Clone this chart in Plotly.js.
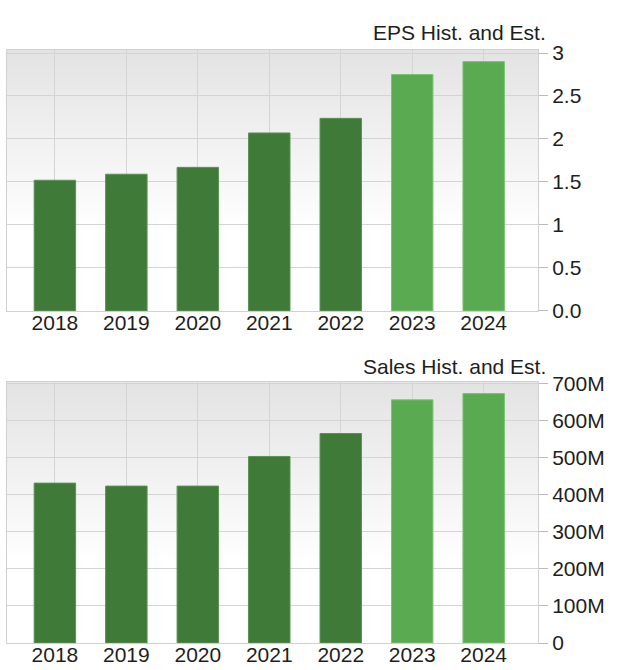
<!DOCTYPE html>
<html><head><meta charset="utf-8">
<script src="https://cdn.plot.ly/plotly-3.0.1.min.js"></script>
<style>html,body{margin:0;padding:0;background:#fff}#chart{width:620px;height:670px}</style>
</head><body><div id="chart"></div>
<script>
const years = ['2018','2019','2020','2021','2022','2023','2024'];
const isEstimate = [false,false,false,false,false,true,true];
const epsValues = [1.52, 1.59, 1.67, 2.07, 2.24, 2.75, 2.90];
const salesValues = [432e6, 424e6, 424e6, 504e6, 566e6, 657e6, 674e6];
const epsTickVals = [0, 0.5, 1, 1.5, 2, 2.5, 3];
const epsTickText = ['0.0','0.5','1','1.5','2','2.5','3'];
const salesTickVals = [0, 100e6, 200e6, 300e6, 400e6, 500e6, 600e6, 700e6];
const salesTickText = ['0','100M','200M','300M','400M','500M','600M','700M'];
const titles = ['EPS Hist. and Est.', 'Sales Hist. and Est.'];

const histColor = '#3f7a39', estColor = '#5aaa51';
const colors = isEstimate.map(e => e ? estColor : histColor);
const lineColors = isEstimate.map(e => e ? '#7cc274' : '#5c9156');

const font = {family:'Liberation Sans, Arial, sans-serif', size:21, color:'#1e1e1e'};

const grad = "<svg xmlns='http://www.w3.org/2000/svg' width='100' height='100' preserveAspectRatio='none'><defs><linearGradient id='g' x1='0' y1='0' x2='0' y2='1'><stop offset='0' stop-color='#e3e3e3'/><stop offset='0.7' stop-color='#ffffff'/><stop offset='1' stop-color='#ffffff'/></linearGradient></defs><rect width='100' height='100' fill='url(#g)'/></svg>";
const gradSrc = 'data:image/svg+xml;charset=utf-8,' + encodeURIComponent(grad);

const traces = [
  {type:'bar', x:years, y:epsValues, xaxis:'x', yaxis:'y', width:0.58,
   marker:{color:colors, line:{color:lineColors, width:1}}, hoverinfo:'none'},
  {type:'bar', x:years, y:salesValues, xaxis:'x2', yaxis:'y2', width:0.58,
   marker:{color:colors, line:{color:lineColors, width:1}}, hoverinfo:'none'}
];

const topDom = [0.56, 1], botDom = [0, 0.44];
function xax(anchor){
  return {anchor:anchor, domain:[0,1], type:'category', range:[-0.67, 6.76],
    showgrid:true, gridcolor:'#d4d4d4', gridwidth:1, showline:true, mirror:true,
    linecolor:'#d0d0d0', linewidth:1, ticks:'', tickfont:font, ticklabelstandoff:-7,
    fixedrange:true, zeroline:false};
}
function yax(anchor, dom, range, tv, tt){
  return {anchor:anchor, domain:dom, side:'right', range:range, tickvals:tv, ticktext:tt,
    showgrid:true, gridcolor:'#d4d4d4', gridwidth:1, showline:true, mirror:true,
    linecolor:'#d0d0d0', linewidth:1, ticks:'outside', ticklen:9, tickcolor:'#bbbbbb',
    tickfont:font, zeroline:false, fixedrange:true};
}

const layout = {
  width:620, height:670, showlegend:false,
  margin:{l:7, r:82, t:50, b:27},
  paper_bgcolor:'#ffffff', plot_bgcolor:'rgba(0,0,0,0)',
  bargap:0.4,
  xaxis: xax('y'), yaxis: yax('x', topDom, [0, 3.035], epsTickVals, epsTickText),
  xaxis2: xax('y2'), yaxis2: yax('x2', botDom, [0, 705e6], salesTickVals, salesTickText),
  images:[
    {source:gradSrc, xref:'paper', yref:'paper', x:0, y:topDom[1], sizex:1, sizey:topDom[1]-topDom[0], sizing:'stretch', layer:'below', xanchor:'left', yanchor:'top'},
    {source:gradSrc, xref:'paper', yref:'paper', x:0, y:botDom[1], sizex:1, sizey:botDom[1]-botDom[0], sizing:'stretch', layer:'below', xanchor:'left', yanchor:'top'}
  ],
  annotations:[
    {text:titles[0], xref:'paper', yref:'paper', x:1.019, y:1.029, xanchor:'right', yanchor:'middle', showarrow:false, font:font},
    {text:titles[1], xref:'paper', yref:'paper', x:1.019, y:0.467, xanchor:'right', yanchor:'middle', showarrow:false, font:font}
  ]
};
Plotly.newPlot('chart', traces, layout, {staticPlot:true, displayModeBar:false});
</script></body></html>
